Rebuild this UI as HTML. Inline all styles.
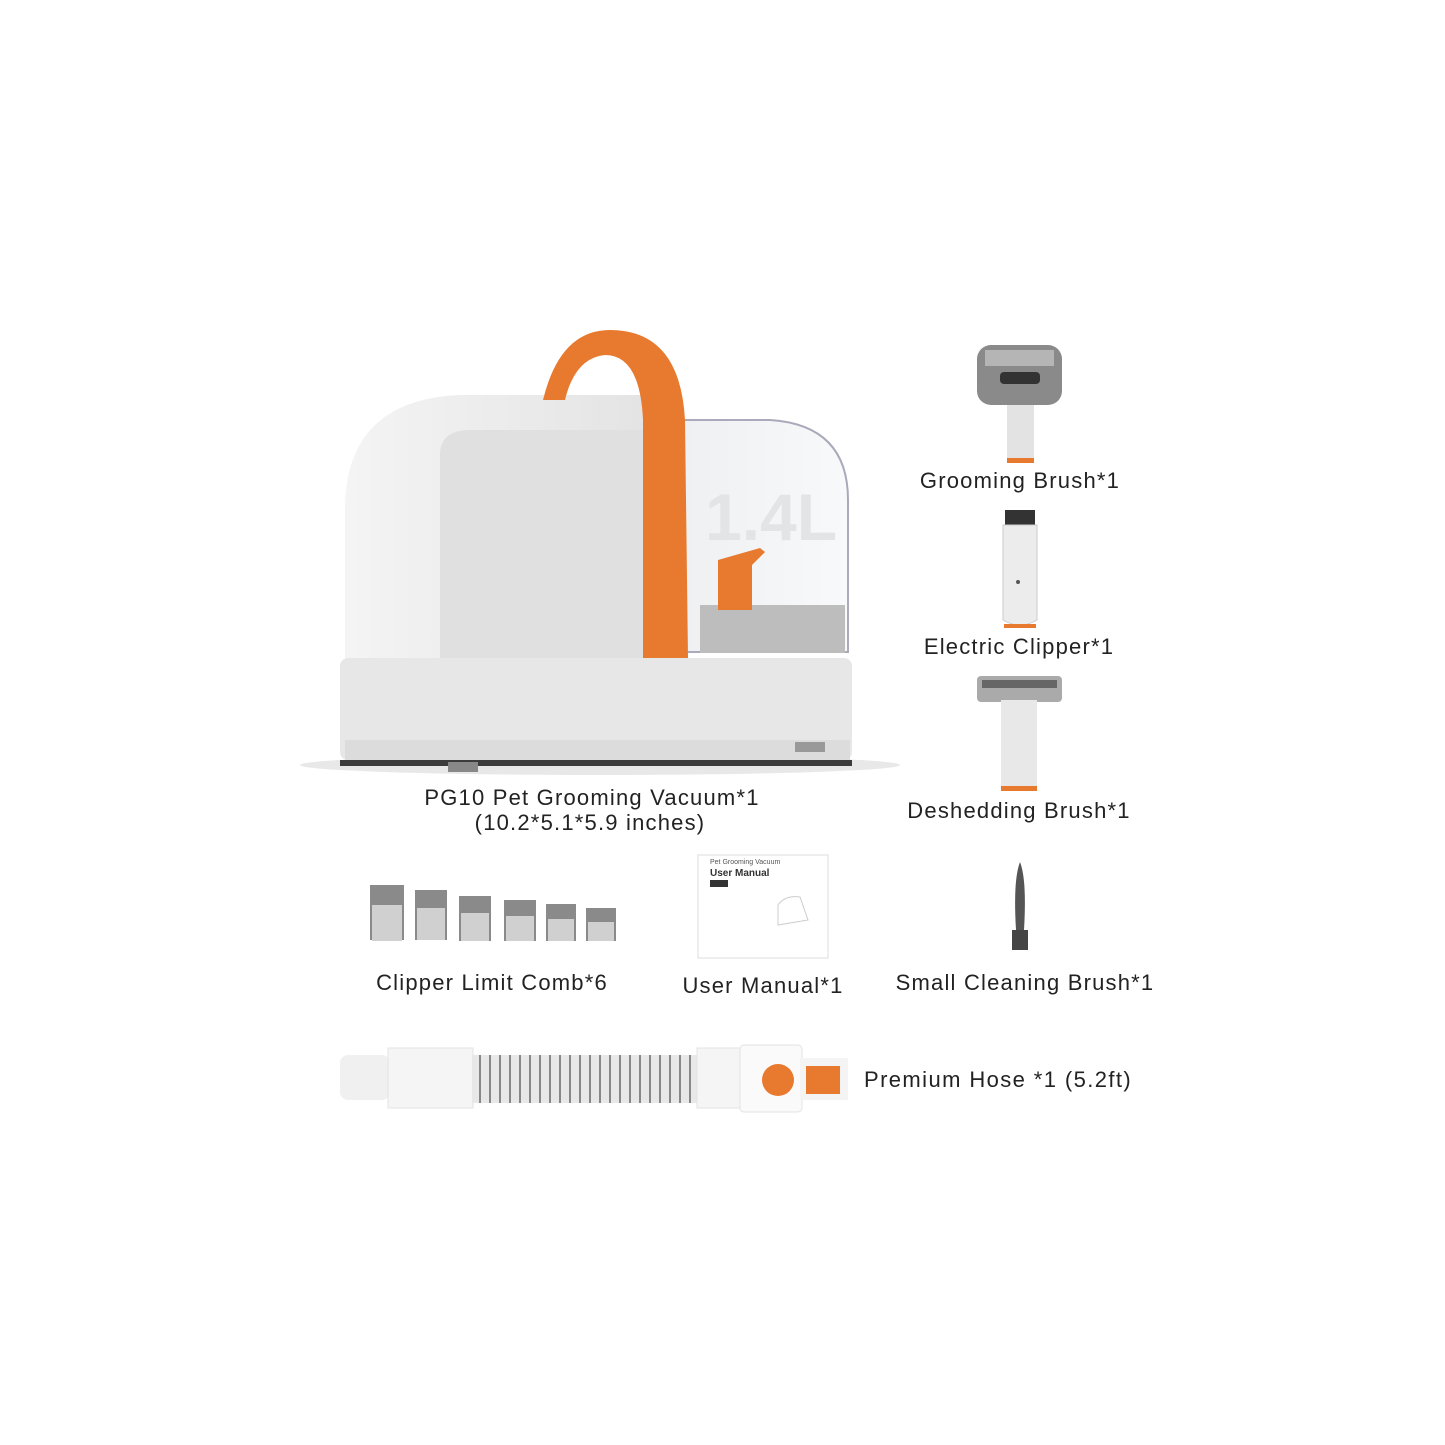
<!DOCTYPE html>
<html><head><meta charset="utf-8"><style>
body{margin:0;width:1445px;height:1445px;background:#fff;position:relative;overflow:hidden;font-family:"Liberation Sans",sans-serif;color:#222}
.a{position:absolute}
.t{position:absolute;font-size:22px;white-space:nowrap;transform:translateX(-50%);letter-spacing:1.2px}
</style></head><body>
<svg class="a" style="left:0;top:0" width="1445" height="1445">
<defs>
<linearGradient id="g1" x1="0" x2="1"><stop offset="0" stop-color="#f4f4f4"/><stop offset="1" stop-color="#e2e2e2"/></linearGradient>
<linearGradient id="tank" x1="0" x2="1"><stop offset="0" stop-color="#eef0f1"/><stop offset="1" stop-color="#f8f9fa"/></linearGradient>
</defs>
<ellipse cx="600" cy="765" rx="300" ry="10" fill="#e8e8e8"/>
<path d="M680 420 L770 420 Q848 425 848 500 L848 652 L680 652 Z" fill="url(#tank)" stroke="#aab" stroke-width="2"/>
<text x="705" y="540" font-size="66" font-weight="bold" fill="#e2e4e6" font-family="Liberation Sans">1.4L</text>
<rect x="700" y="605" width="145" height="48" fill="#bdbdbd"/>
<path d="M718 560 L760 548 L765 552 L752 565 L752 610 L718 610 Z" fill="#e87a30"/>
<path d="M345 765 L345 510 Q345 400 460 395 L680 395 L680 765 Z" fill="url(#g1)"/>
<path d="M440 455 Q440 430 470 430 L645 430 L645 658 L440 658 Z" fill="#e0e0e0"/>
<rect x="340" y="658" width="512" height="102" rx="8" fill="#e7e7e7"/>
<rect x="345" y="740" width="505" height="22" fill="#dcdcdc"/>
<rect x="340" y="760" width="512" height="6" fill="#3c3c3c"/>
<rect x="448" y="762" width="30" height="10" fill="#888"/>
<rect x="795" y="742" width="30" height="10" fill="#999"/>
<path d="M543 400 Q560 330 610 330 Q680 330 685 420 L688 658 L643 658 L643 420 Q640 355 605 355 Q575 358 565 400 Z" fill="#e87a30"/>
<rect x="977" y="345" width="85" height="60" rx="14" fill="#8a8a8a"/>
<rect x="985" y="350" width="69" height="16" fill="#b5b5b5"/>
<rect x="1000" y="372" width="40" height="12" rx="4" fill="#333"/>
<rect x="1007" y="405" width="27" height="58" fill="#e3e3e3"/>
<rect x="1007" y="458" width="27" height="5" fill="#e87a30"/>
<rect x="1005" y="510" width="30" height="16" fill="#333"/>
<path d="M1003 525 L1037 525 L1037 620 Q1020 630 1003 620 Z" fill="#ececec" stroke="#ccc"/>
<rect x="1004" y="624" width="32" height="4" fill="#e87a30"/>
<circle cx="1018" cy="582" r="2" fill="#555"/>
<rect x="977" y="676" width="85" height="26" rx="4" fill="#aaa"/>
<rect x="982" y="680" width="75" height="8" fill="#666"/>
<rect x="1001" y="700" width="36" height="90" fill="#e8e8e8"/>
<rect x="1001" y="786" width="36" height="5" fill="#e87a30"/>
<g fill="#8a8a8a">
<rect x="370" y="885" width="34" height="55"/><rect x="415" y="890" width="32" height="50"/><rect x="459" y="896" width="32" height="45"/><rect x="504" y="900" width="32" height="41"/><rect x="546" y="904" width="30" height="37"/><rect x="586" y="908" width="30" height="33"/>
</g>
<g fill="#d0d0d0">
<rect x="372" y="905" width="30" height="36"/><rect x="417" y="908" width="28" height="32"/><rect x="461" y="913" width="28" height="28"/><rect x="506" y="916" width="28" height="25"/><rect x="548" y="919" width="26" height="22"/><rect x="588" y="922" width="26" height="19"/>
</g>
<rect x="698" y="855" width="130" height="103" fill="#fff" stroke="#ddd"/>
<text x="710" y="864" font-size="7" fill="#555">Pet Grooming Vacuum</text>
<text x="710" y="876" font-size="10" font-weight="bold" fill="#333">User Manual</text>
<rect x="710" y="880" width="18" height="7" fill="#333"/>
<path d="M778 925 L778 905 Q785 895 800 897 L808 920 Z" fill="none" stroke="#ccc"/>
<path d="M1020 862 Q1027 880 1024 930 L1016 930 Q1013 880 1020 862Z" fill="#555"/>
<rect x="1012" y="930" width="16" height="20" fill="#444"/>
<rect x="340" y="1055" width="50" height="45" rx="8" fill="#f0f0f0"/>
<rect x="388" y="1048" width="85" height="60" fill="#f5f5f5" stroke="#e3e3e3"/>
<rect x="472" y="1055" width="225" height="48" fill="#e8e8e8"/>
<g stroke="#888" stroke-width="2">
<path d="M480 1055 V1103 M490 1055 V1103 M500 1055 V1103 M510 1055 V1103 M520 1055 V1103 M530 1055 V1103 M540 1055 V1103 M550 1055 V1103 M560 1055 V1103 M570 1055 V1103 M580 1055 V1103 M590 1055 V1103 M600 1055 V1103 M610 1055 V1103 M620 1055 V1103 M630 1055 V1103 M640 1055 V1103 M650 1055 V1103 M660 1055 V1103 M670 1055 V1103 M680 1055 V1103 M690 1055 V1103"/>
</g>
<rect x="697" y="1048" width="45" height="60" fill="#f5f5f5" stroke="#e3e3e3"/>
<rect x="740" y="1045" width="62" height="67" rx="4" fill="#fafafa" stroke="#e3e3e3"/>
<circle cx="778" cy="1080" r="16" fill="#e87a30"/>
<rect x="800" y="1058" width="48" height="42" fill="#f4f4f4"/>
<rect x="806" y="1066" width="34" height="28" fill="#e87a30"/>
</svg>
<div class="t" style="left:592px;top:785px">PG10 Pet Grooming Vacuum*1</div>
<div class="t" style="left:590px;top:810px">(10.2*5.1*5.9 inches)</div>
<div class="t" style="left:1020px;top:468px">Grooming Brush*1</div>
<div class="t" style="left:1019px;top:634px">Electric Clipper*1</div>
<div class="t" style="left:1019px;top:798px">Deshedding Brush*1</div>
<div class="t" style="left:492px;top:970px">Clipper Limit Comb*6</div>
<div class="t" style="left:763px;top:973px">User Manual*1</div>
<div class="t" style="left:1025px;top:970px">Small Cleaning Brush*1</div>
<div class="a" style="left:864px;top:1067px;font-size:22px;letter-spacing:1.4px">Premium Hose *1 (5.2ft)</div>
</body></html>
